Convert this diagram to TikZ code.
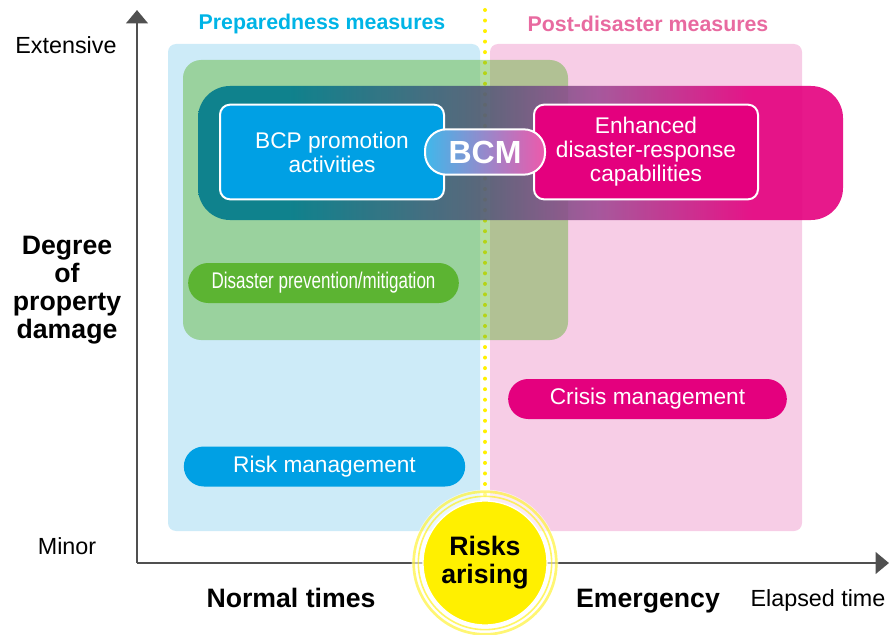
\documentclass[tikz,border=0pt]{standalone}
\usepackage{fontspec}
\setmainfont{Liberation Sans}
\usepackage{graphicx}
\usetikzlibrary{arrows.meta, positioning}
\definecolor{areablue}{RGB}{205,235,248}
\definecolor{areapink}{RGB}{247,205,230}
\definecolor{bcpblue}{RGB}{0,160,228}
\definecolor{bcmpink}{RGB}{228,0,126}
\definecolor{prevgreen}{RGB}{92,180,50}
\definecolor{riskyellow}{RGB}{255,240,0}
\definecolor{axisgray}{RGB}{80,80,80}
\definecolor{prepcyan}{RGB}{0,180,230}
\definecolor{postpink}{RGB}{232,106,160}
\pgfdeclarehorizontalshading{bandshade}{100bp}{rgb(0bp)=(0,0.478,0.549); rgb(32bp)=(0,0.478,0.549); rgb(47bp)=(0.33,0.36,0.47); rgb(56bp)=(0.62,0.3,0.58); rgb(68bp)=(0.894,0,0.494); rgb(100bp)=(0.894,0,0.494)}

\begin{document}
\begin{tikzpicture}[
            x=0.75pt, y=-0.75pt,
            region/.style={rounded corners=6pt},
            card/.style={rectangle, rounded corners=7.5pt, draw=white, line width=1.5pt, text=white, align=center, minimum width=168pt, minimum height=71pt, font=\fontsize{17}{18}\selectfont},
            pill/.style={rectangle, rounded corners=15pt, text=white, minimum height=30pt, font=\fontsize{17}{18}\selectfont},
            axis/.style={draw=axisgray, line width=2.2pt, -{Triangle[width=16pt, length=10pt]}},
            tick/.style={font=\fontsize{17.5}{21}\selectfont, align=center},
            caption/.style={font=\bfseries\fontsize{20}{21}\selectfont, align=center},
            heading/.style={font=\bfseries\fontsize{16}{18}\selectfont}
        ]
            \useasboundingbox (0,0) rectangle (890,635);

            % measure areas
            \fill[region, areablue] (168,44) rectangle (480,531);
            \fill[region, areapink] (490,44) rectangle (802,531);

            \coordinate (dottop) at (485,10);
            \coordinate (riskpt) at (485,563);
            \draw[riskyellow, line width=3pt, line cap=round, dash pattern=on 0pt off 7.9pt] (dottop) -- (riskpt);

            \fill[prevgreen, fill opacity=0.45, rounded corners=13.5pt] (183,60) rectangle (568,340);
            \shade[shading=bandshade, fill opacity=0.9, rounded corners=24pt] (198,86) rectangle (843,220);

            % boxes
            \node[card, fill=bcpblue] (bcp) at (332,152) {BCP promotion\\activities};
            \node[card, fill=bcmpink] (enh) at (646,152) {Enhanced\\disaster-response\\capabilities};
            \node[rectangle, rounded corners=16pt, draw=white, line width=1.5pt, left color=bcpblue!75!white, right color=bcmpink!65!white, text=white, minimum width=90pt, minimum height=34pt, font=\bfseries\fontsize{24}{24}\selectfont] (bcm) at (485,152) {BCM};

            \node[pill, fill=prevgreen, minimum width=203pt] (prev) at (323.5,283) {\scalebox{0.75}[1]{Disaster prevention/mitigation}};
            \node[pill, fill=bcmpink, minimum width=209pt] (crisis) at (647.5,399) {Crisis management};
            \node[pill, fill=bcpblue, minimum width=211pt] (riskm) at (324.5,466.5) {Risk management};

            % axes
            \coordinate (origin) at (137,563);
            \coordinate (ytop) at (137,10);
            \coordinate (xend) at (889,563);
            \draw[axis] (origin) -- (ytop);
            \draw[axis] (origin) -- (xend);

            % risks arising
            \fill[white, fill opacity=0.6] (riskpt) circle (55pt);
            \draw[riskyellow, opacity=0.55, line width=2pt] (riskpt) circle (53.5pt);
            \draw[riskyellow, opacity=0.6, line width=1.2pt] (riskpt) circle (50pt);
            \node[circle, fill=riskyellow, draw=white, line width=1pt, minimum size=93pt, align=center, font=\bfseries\fontsize{20}{21}\selectfont] (risks) at (riskpt) {Risks\\arising};

            % labels
            \node[tick] (extensive) at (66,45) {Extensive};
            \node[tick] (minor) at (67,546) {Minor};
            \node[caption] (degree) at (67,290) {Degree\\of\\property\\damage};
            \node[caption, anchor=base] (normal) at (291,607) {Normal times};
            \node[caption, anchor=base] (emerg) at (648,607) {Emergency};
            \node[tick, anchor=base] (elapsed) at (818,606) {Elapsed time};
            \node[heading, text=prepcyan] (prep) at (322,24) {Preparedness measures};
            \node[heading, text=postpink] (post) at (648,24) {Post-disaster measures};
        \end{tikzpicture}
\end{document}
